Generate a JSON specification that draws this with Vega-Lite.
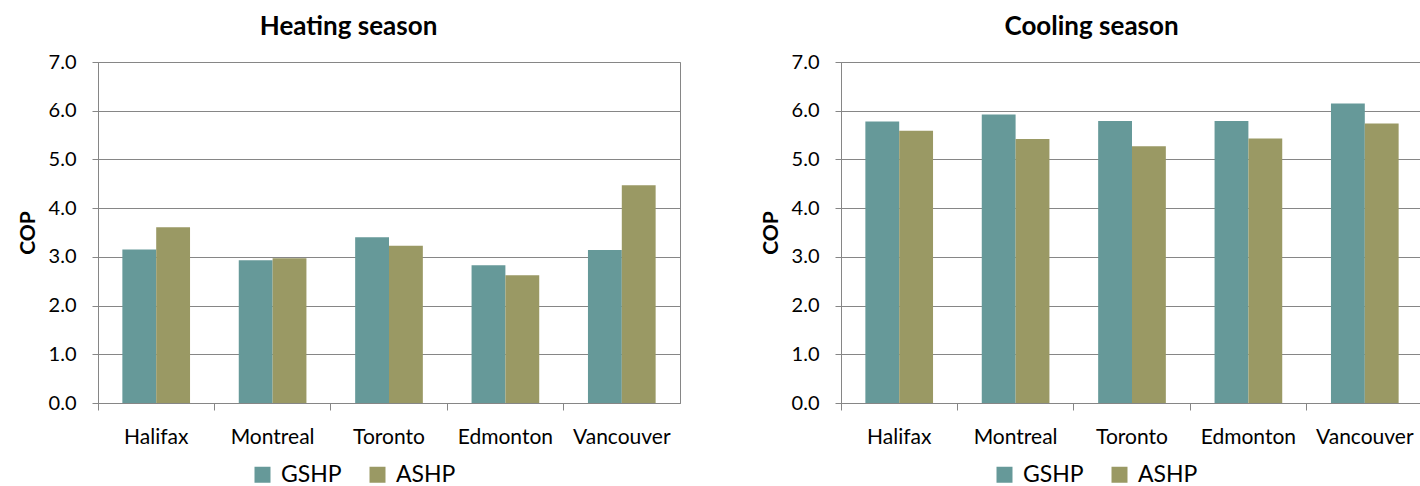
{
  "$schema": "https://vega.github.io/schema/vega-lite/v6.json",
  "padding": {"left": 16, "top": 13, "right": 0, "bottom": 0},
  "background": "white",
  "data": {"values": [
    {"season": "Heating", "city": "Halifax", "type": "GSHP", "cop": 3.15},
    {"season": "Heating", "city": "Halifax", "type": "ASHP", "cop": 3.61},
    {"season": "Heating", "city": "Montreal", "type": "GSHP", "cop": 2.93},
    {"season": "Heating", "city": "Montreal", "type": "ASHP", "cop": 2.97},
    {"season": "Heating", "city": "Toronto", "type": "GSHP", "cop": 3.40},
    {"season": "Heating", "city": "Toronto", "type": "ASHP", "cop": 3.23},
    {"season": "Heating", "city": "Edmonton", "type": "GSHP", "cop": 2.83},
    {"season": "Heating", "city": "Edmonton", "type": "ASHP", "cop": 2.62},
    {"season": "Heating", "city": "Vancouver", "type": "GSHP", "cop": 3.14},
    {"season": "Heating", "city": "Vancouver", "type": "ASHP", "cop": 4.47},
    {"season": "Cooling", "city": "Halifax", "type": "GSHP", "cop": 5.78},
    {"season": "Cooling", "city": "Halifax", "type": "ASHP", "cop": 5.59},
    {"season": "Cooling", "city": "Montreal", "type": "GSHP", "cop": 5.92},
    {"season": "Cooling", "city": "Montreal", "type": "ASHP", "cop": 5.42},
    {"season": "Cooling", "city": "Toronto", "type": "GSHP", "cop": 5.79},
    {"season": "Cooling", "city": "Toronto", "type": "ASHP", "cop": 5.27},
    {"season": "Cooling", "city": "Edmonton", "type": "GSHP", "cop": 5.79},
    {"season": "Cooling", "city": "Edmonton", "type": "ASHP", "cop": 5.43},
    {"season": "Cooling", "city": "Vancouver", "type": "GSHP", "cop": 6.15},
    {"season": "Cooling", "city": "Vancouver", "type": "ASHP", "cop": 5.74}
  ]},
  "spacing": 78,
  "resolve": {"legend": {"color": "independent"}},
  "config": {
    "font": "Lato",
    "view": {"stroke": "#868686", "strokeWidth": 1},
    "axis": {
      "labelFont": "Lato", "labelFontSize": 20, "labelColor": "#000000",
      "titleFont": "Lato", "titleFontSize": 21, "titleFontWeight": "bold", "titleColor": "#000000",
      "domainColor": "#868686", "tickColor": "#868686", "gridColor": "#868686",
      "tickSize": 6
    },
    "title": {"font": "Lato", "fontSize": 26, "fontWeight": "bold", "color": "#000000", "anchor": "middle", "frame": "bounds", "offset": 12},
    "legend": {"labelFont": "Lato", "labelFontSize": 23, "labelColor": "#000000", "symbolType": "square", "symbolSize": 256, "symbolStrokeWidth": 0, "columnPadding": 24, "labelOffset": 7, "padding": 0}
  },
  "hconcat": [
    {
      "title": "Heating season",
      "width": 582, "height": 341,
      "transform": [{"filter": "datum.season === 'Heating'"}],
      "mark": {"type": "bar"},
      "encoding": {
        "x": {"field": "city", "type": "nominal", "sort": ["Halifax", "Montreal", "Toronto", "Edmonton", "Vancouver"],
              "scale": {"paddingInner": 0, "paddingOuter": 0},
              "axis": {"title": null, "labelAngle": 0, "labelFontSize": 21, "bandPosition": 0, "tickSize": 7, "labelPadding": 16, "grid": false}},
        "xOffset": {"field": "type", "type": "nominal", "scale": {"domain": ["GSHP", "ASHP"], "paddingInner": 0, "paddingOuter": 0.72}},
        "y": {"field": "cop", "type": "quantitative", "scale": {"domain": [0, 7]},
              "axis": {"title": "COP", "values": [0, 1, 2, 3, 4, 5, 6, 7], "format": ".1f", "labelPadding": 16, "titlePadding": 10, "grid": true}},
        "color": {"field": "type", "type": "nominal", "scale": {"domain": ["GSHP", "ASHP"], "range": ["#669999", "#9A9964"]},
                  "legend": {"title": null, "orient": "none", "direction": "horizontal", "legendX": 153, "legendY": 401}}
      }
    },
    {
      "title": "Cooling season",
      "width": 582, "height": 341,
      "transform": [{"filter": "datum.season === 'Cooling'"}],
      "mark": {"type": "bar"},
      "encoding": {
        "x": {"field": "city", "type": "nominal", "sort": ["Halifax", "Montreal", "Toronto", "Edmonton", "Vancouver"],
              "scale": {"paddingInner": 0, "paddingOuter": 0},
              "axis": {"title": null, "labelAngle": 0, "labelFontSize": 21, "bandPosition": 0, "tickSize": 7, "labelPadding": 16, "grid": false}},
        "xOffset": {"field": "type", "type": "nominal", "scale": {"domain": ["GSHP", "ASHP"], "paddingInner": 0, "paddingOuter": 0.72}},
        "y": {"field": "cop", "type": "quantitative", "scale": {"domain": [0, 7]},
              "axis": {"title": "COP", "values": [0, 1, 2, 3, 4, 5, 6, 7], "format": ".1f", "labelPadding": 16, "titlePadding": 10, "grid": true}},
        "color": {"field": "type", "type": "nominal", "scale": {"domain": ["GSHP", "ASHP"], "range": ["#669999", "#9A9964"]},
                  "legend": {"title": null, "orient": "none", "direction": "horizontal", "legendX": 152, "legendY": 401}}
      }
    }
  ]
}
